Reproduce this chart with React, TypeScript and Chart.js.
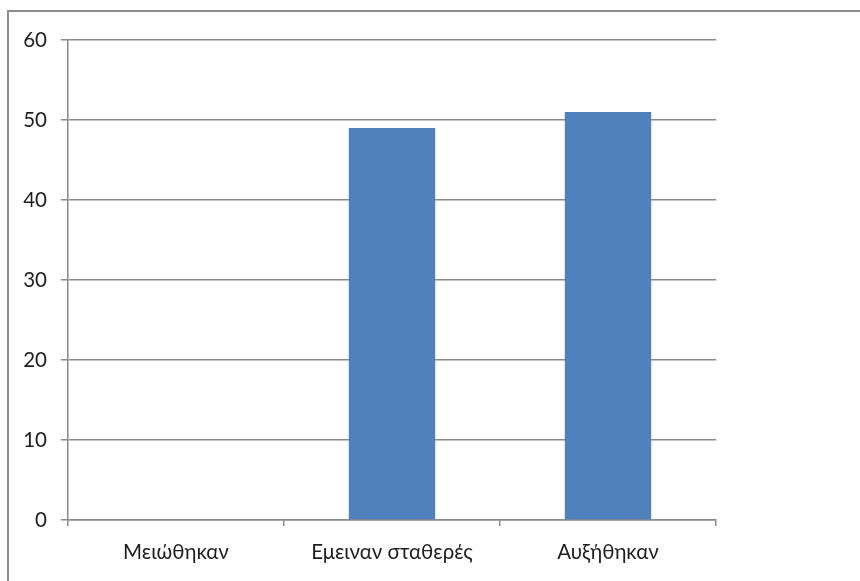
import React, { useEffect, useRef } from "react";
import { Chart, registerables } from "chart.js";

Chart.register(...registerables);

const categories = ["Μειώθηκαν", "Εμειναν σταθερές", "Αυξήθηκαν"];
const values = [0, 49, 51];
const yMin = 0;
const yMax = 60;
const yStep = 10;

const GRID = "#8a8a8a";
const TEXT = "#1e1e1e";
const FONT = "Lato, 'Noto Sans', sans-serif";

export default function App() {
  const ref = useRef<HTMLCanvasElement | null>(null);

  useEffect(() => {
    if (!ref.current) return;
    const chart = new Chart(ref.current, {
      type: "bar",
      data: {
        labels: categories,
        datasets: [
          {
            data: values,
            backgroundColor: "#4F81BD",
            borderWidth: 0,
            barPercentage: 0.4,
            categoryPercentage: 1,
          },
        ],
      },
      options: {
        responsive: false,
        animation: false,
        layout: { padding: { top: 40, right: 144, bottom: 0, left: 0 } },
        plugins: { legend: { display: false }, tooltip: { enabled: false } },
        scales: {
          x: {
            offset: true,
            afterFit: (s: any) => {
              s.height = 61;
            },
            grid: {
              display: true,
              offset: true,
              drawOnChartArea: false,
              drawTicks: true,
              tickLength: 6,
              color: GRID,
              lineWidth: 1.5,
            },
            border: { display: true, color: GRID, width: 1.5 },
            ticks: {
              color: TEXT,
              font: { family: FONT, size: 20.5 },
              padding: 14,
              maxRotation: 0,
            },
          },
          y: {
            min: yMin,
            max: yMax,
            afterFit: (s: any) => {
              s.width = 68;
            },
            grid: {
              color: GRID,
              lineWidth: 1.5,
              drawTicks: true,
              tickLength: 7,
            },
            border: { display: true, color: GRID, width: 1.5 },
            ticks: {
              stepSize: yStep,
              color: TEXT,
              font: { family: FONT, size: 20.5 },
              padding: 14,
            },
          },
        },
      },
    });
    return () => chart.destroy();
  }, []);

  return (
    <div style={{ position: "fixed", left: 0, top: 0, width: 860, height: 581, background: "#fff", overflow: "hidden" }}>
      <div
        style={{
          position: "absolute",
          left: 7,
          top: 10,
          width: 900,
          height: 700,
          borderLeft: "2px solid #8c8c8c",
          borderTop: "2px solid #8c8c8c",
        }}
      />
      <canvas ref={ref} width={860} height={581} style={{ position: "absolute", left: 0, top: 0 }} />
    </div>
  );
}
